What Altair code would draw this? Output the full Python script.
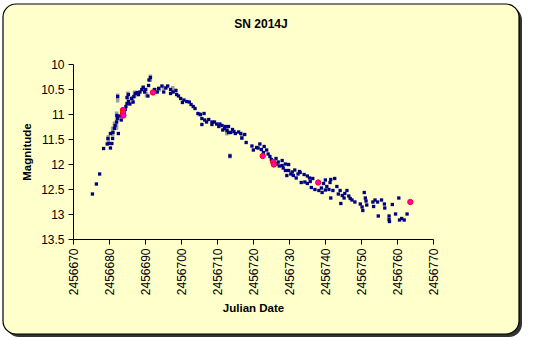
import altair as alt
import pandas as pd

# Navy points (Julian Date, magnitude)
jd = [2456675.4, 2456676.5, 2456677.4, 2456678.5, 2456679.5, 2456680.0, 2456680.4, 2456680.8, 2456679.7, 2456681.0,
      2456680.4, 2456681.1, 2456681.5, 2456682.6, 2456681.7, 2456682.1, 2456682.4, 2456683.0, 2456683.4, 2456683.6,
      2456682.2, 2456682.4, 2456684.5, 2456684.7, 2456685.0, 2456685.4, 2456685.8, 2456685.0, 2456685.4, 2456686.3,
      2456686.7, 2456686.9, 2456687.3, 2456687.8, 2456688.2, 2456688.6, 2456689.1, 2456689.5, 2456689.9, 2456690.2,
      2456690.8, 2456691.0, 2456691.1, 2456691.5, 2456692.6, 2456693.4, 2456693.8, 2456694.7, 2456695.2, 2456695.8,
      2456696.3, 2456697.1, 2456697.1, 2456697.8, 2456698.6, 2456698.8, 2456699.3, 2456699.9, 2456700.4, 2456700.8,
      2456701.6, 2456702.3, 2456702.8, 2456703.4, 2456703.9, 2456704.7, 2456705.4, 2456705.8, 2456706.4, 2456705.8,
      2456706.6, 2456707.1, 2456707.7, 2456708.6, 2456708.6, 2456709.3, 2456709.9, 2456710.5, 2456710.8, 2456711.4,
      2456711.6, 2456712.1, 2456712.3, 2456712.8, 2456713.2, 2456713.2, 2456713.6, 2456713.8, 2456714.3, 2456714.7,
      2456715.1, 2456716.0, 2456716.6, 2456716.9, 2456717.7, 2456718.1, 2456719.7, 2456720.1, 2456721.0, 2456721.4,
      2456721.9, 2456722.3, 2456722.9, 2456723.1, 2456723.8, 2456724.2, 2456724.7, 2456725.1, 2456726.4, 2456726.6,
      2456727.0, 2456727.3, 2456728.1, 2456728.1, 2456728.4, 2456729.0, 2456729.0, 2456729.4, 2456729.9, 2456729.9,
      2456730.5, 2456730.9, 2456731.2, 2456731.6, 2456732.0, 2456732.5, 2456732.9, 2456733.1, 2456733.4, 2456734.2,
      2456734.4, 2456735.1, 2456735.1, 2456735.7, 2456735.9, 2456736.2, 2456736.6, 2456737.2, 2456738.3, 2456739.0,
      2456739.2, 2456739.6, 2456740.1, 2456740.1, 2456740.5, 2456741.1, 2456741.4, 2456741.6, 2456741.6, 2456742.2,
      2456742.7, 2456743.3, 2456743.7, 2456744.2, 2456744.4, 2456744.8, 2456745.3, 2456745.5, 2456746.1, 2456746.6,
      2456747.0, 2456747.5, 2456748.3, 2456749.8, 2456750.3, 2456750.5, 2456750.9, 2456751.2, 2456751.4, 2456751.6,
      2456753.3, 2456753.5, 2456753.9, 2456754.6, 2456754.8, 2456755.7, 2456756.5, 2456756.6, 2456757.8, 2456757.8,
      2456757.9, 2456758.7, 2456759.6, 2456760.5, 2456760.7, 2456761.3, 2456762.0, 2456762.8]
mag = [12.60, 12.40, 12.20, 11.69, 11.60, 11.59, 11.68, 11.59, 11.49, 11.49,
       11.39, 11.37, 11.29, 11.39, 11.23, 11.16, 11.09, 11.04, 11.12, 10.99,
       11.03, 10.65, 10.91, 10.85, 10.79, 10.75, 10.80, 10.67, 10.61, 10.69,
       10.76, 10.65, 10.59, 10.57, 10.61, 10.56, 10.51, 10.47, 10.56, 10.51,
       10.64, 10.43, 10.32, 10.27, 10.51, 10.56, 10.49, 10.44, 10.56, 10.48,
       10.44, 10.51, 10.59, 10.56, 10.53, 10.61, 10.64, 10.69, 10.77, 10.72,
       10.75, 10.76, 10.81, 10.85, 10.89, 10.99, 11.01, 11.09, 10.99, 11.21,
       11.12, 11.16, 11.11, 11.16, 11.21, 11.16, 11.20, 11.25, 11.20, 11.23,
       11.32, 11.29, 11.25, 11.33, 11.37, 11.25, 11.84, 11.37, 11.31, 11.35,
       11.39, 11.36, 11.39, 11.48, 11.41, 11.57, 11.64, 11.72, 11.67, 11.68,
       11.60, 11.71, 11.77, 11.65, 11.72, 11.80, 11.85, 11.91, 11.89, 12.00,
       11.96, 12.04, 11.93, 12.03, 12.08, 12.00, 12.13, 12.23, 12.13, 12.01,
       12.20, 12.16, 12.23, 12.12, 12.28, 12.20, 12.15, 12.17, 12.37, 12.21,
       12.36, 12.24, 12.39, 12.28, 12.35, 12.47, 12.29, 12.51, 12.53, 12.48,
       12.57, 12.39, 12.32, 12.52, 12.45, 12.51, 12.37, 12.68, 12.31, 12.53,
       12.29, 12.45, 12.60, 12.53, 12.79, 12.63, 12.68, 12.59, 12.53, 12.64,
       12.69, 12.72, 12.76, 12.80, 12.86, 12.93, 12.57, 12.68, 12.74, 12.82,
       12.76, 12.85, 12.72, 12.76, 13.04, 12.72, 12.80, 12.88, 13.04, 13.11,
       13.15, 12.81, 13.00, 12.68, 13.12, 13.09, 13.12, 13.00]

# Pink points
jd_pink = [2456683.9, 2456683.9, 2456684.0, 2456692.2, 2456722.7, 2456725.6, 2456725.8, 2456738.1, 2456763.7]
mag_pink = [10.92, 10.98, 11.03, 10.57, 11.84, 11.96, 12.01, 12.37, 12.76]

# Gray bars (JD, low, high)
jd_gray = [2456681.5, 2456682.1, 2456681.0, 2456679.8, 2456682.4, 2456685.2, 2456686.5, 2456687.1, 2456688.0,
           2456689.5, 2456690.4, 2456691.5, 2456693.2, 2456694.0, 2456695.2, 2456697.7, 2456698.4, 2456705.1,
           2456712.7, 2456713.6, 2456716.9]
mag_lo = [11.15, 10.95, 11.25, 11.42, 10.59, 10.55, 10.64, 10.53, 10.55,
          10.42, 10.56, 10.21, 10.48, 10.45, 10.43, 10.44, 10.49, 10.96,
          11.27, 11.79, 11.39]
mag_hi = [11.32, 11.32, 11.45, 11.58, 10.77, 10.72, 10.80, 10.69, 10.65,
          10.55, 10.67, 10.36, 10.58, 10.55, 10.52, 10.59, 10.57, 11.05,
          11.43, 11.89, 11.52]

x_ticks = [2456670, 2456680, 2456690, 2456700, 2456710, 2456720, 2456730, 2456740, 2456750, 2456760, 2456770]
y_ticks = [10, 10.5, 11, 11.5, 12, 12.5, 13, 13.5]
chart_title = "SN 2014J"

FONT = "Liberation Sans"

df = pd.DataFrame({"jd": jd, "mag": mag})
dfp = pd.DataFrame({"jd": jd_pink, "mag": mag_pink})
dfg = pd.DataFrame({"jd": jd_gray, "lo": mag_lo, "hi": mag_hi})
one = pd.DataFrame({"t": [chart_title]})

xscale = alt.Scale(domain=[2456670, 2456770], nice=False, zero=False)
yscale = alt.Scale(domain=[10, 13.5], reverse=True, nice=False, zero=False)

xaxis = alt.Axis(values=x_ticks, format="d", labelAngle=-90, title="Julian Date", grid=False,
                 tickSize=5, tickColor="black", domainColor="black", labelColor="black",
                 labelFont=FONT, labelFontSize=12, titleFont=FONT, titleFontSize=11.5,
                 titleFontWeight="bold", titleColor="black", labelPadding=4, titlePadding=8, zindex=1)
yaxis = alt.Axis(values=y_ticks, format="~g", title="Magnitude", grid=False,
                 tickSize=5, tickColor="black", domainColor="black", labelColor="black",
                 labelFont=FONT, labelFontSize=12, titleFont=FONT, titleFontSize=11.5,
                 titleFontWeight="bold", titleColor="black", labelPadding=4, titlePadding=8, zindex=1)

shadow = alt.Chart(one).mark_rect(fill="#333333", cornerRadius=13).encode(
    x=alt.value(-67), x2=alt.value(449), y=alt.value(-57), y2=alt.value(273))
frame = alt.Chart(one).mark_rect(fill="#FFFFCC", stroke="black", strokeWidth=1.2, cornerRadius=13).encode(
    x=alt.value(-70), x2=alt.value(446), y=alt.value(-60), y2=alt.value(270))
title = alt.Chart(one).mark_text(font=FONT, fontSize=12, fontWeight="bold", color="black",
                                 align="center", baseline="alphabetic").encode(
    text="t:N", x=alt.value(188), y=alt.value(-36))

gray = alt.Chart(dfg).mark_rule(color="#A0A0A0", strokeWidth=3.5).encode(
    x=alt.X("jd:Q", scale=xscale, axis=xaxis),
    y=alt.Y("lo:Q", scale=yscale, axis=yaxis),
    y2="hi:Q")
navy = alt.Chart(df).mark_point(shape="square", filled=True, color="#000080", size=11, opacity=1).encode(
    x=alt.X("jd:Q", scale=xscale, axis=xaxis),
    y=alt.Y("mag:Q", scale=yscale, axis=yaxis))
pink = alt.Chart(dfp).mark_point(shape="circle", filled=True, fill="#FF00CC", stroke="#FF0000",
                                 strokeWidth=1, size=28, opacity=1).encode(
    x=alt.X("jd:Q", scale=xscale, axis=xaxis),
    y=alt.Y("mag:Q", scale=yscale, axis=yaxis))

chart = alt.layer(shadow, frame, title, gray, navy, pink).properties(
    width=360, height=175,
    autosize=alt.AutoSizeParams(type="none"),
    padding={"left": 73, "top": 64, "right": 101, "bottom": 101},
    background="white",
).configure_view(stroke=None)

chart.save("out.html", embed_options={"renderer": "svg", "actions": False})
